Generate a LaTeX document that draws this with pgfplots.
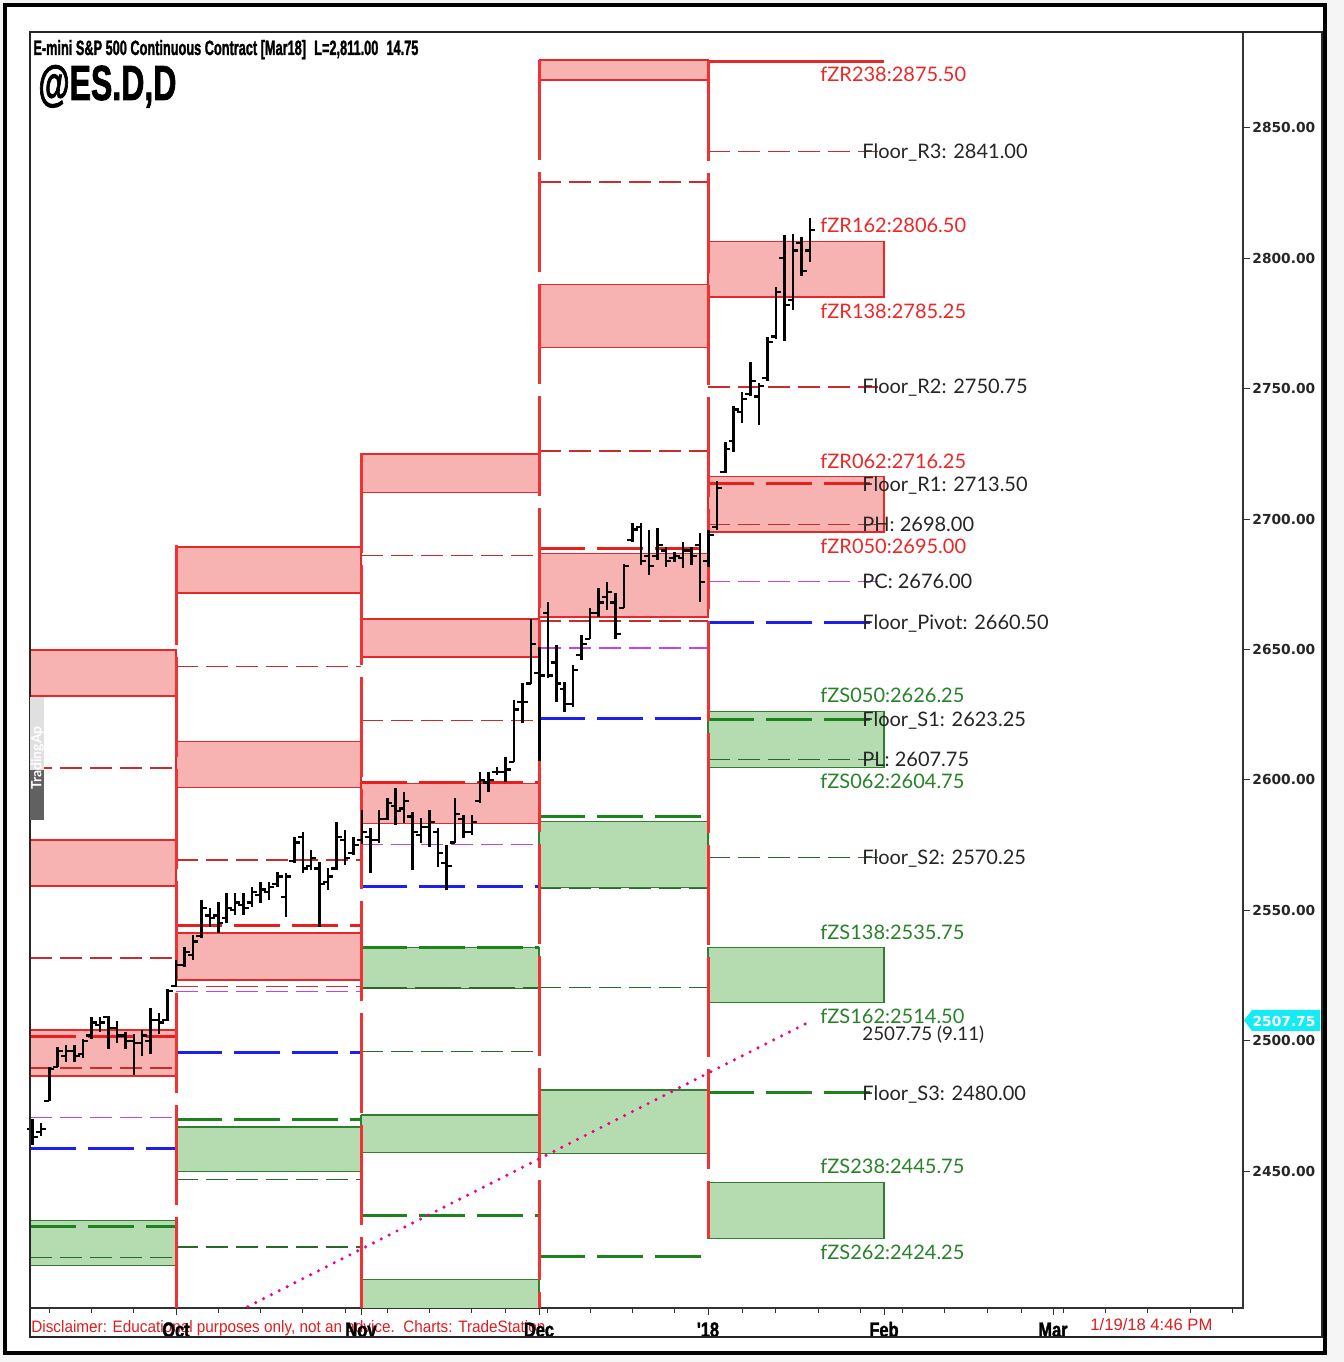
\documentclass[border=0pt]{standalone}
\usepackage{pgfplots}
\pgfplotsset{compat=1.18}
\usepackage{pgfplotstable}
\usepackage{graphicx}
\usepackage{fontspec}
\setmainfont{Lato}
\newfontfamily\axisfont{DejaVu Sans}
\newfontfamily\condfont{Liberation Sans}[FakeStretch=0.8]
\newfontfamily\heavyfont{Liberation Sans Bold}[FakeStretch=0.78, FakeBold=1.6]
\newfontfamily\narrowfont{Liberation Sans}[FakeStretch=0.82]

\definecolor{zrfill}{RGB}{247,178,178}
\definecolor{zrline}{RGB}{232,40,40}
\definecolor{zsfill}{RGB}{180,220,176}
\definecolor{zsline}{RGB}{50,125,50}
\definecolor{vred}{RGB}{240,50,50}
\definecolor{rthickc}{RGB}{235,30,30}
\definecolor{rthinc}{RGB}{200,45,45}
\definecolor{pcc}{RGB}{190,70,230}
\definecolor{pivc}{RGB}{30,30,240}
\definecolor{gthickc}{RGB}{30,130,30}
\definecolor{gthinc}{RGB}{40,105,40}
\definecolor{labred}{RGB}{235,40,40}
\definecolor{labgreen}{RGB}{40,130,40}
\definecolor{dred}{RGB}{220,30,30}
\definecolor{tagcyan}{RGB}{20,235,245}

\pgfdeclareplotmark{ctick}{\pgfpathmoveto{\pgfqpoint{0pt}{0pt}}\pgfpathlineto{\pgfqpoint{2.6pt}{0pt}}\pgfusepathqstroke}
\pgfdeclareplotmark{otick}{\pgfpathmoveto{\pgfqpoint{0pt}{0pt}}\pgfpathlineto{\pgfqpoint{-2.6pt}{0pt}}\pgfusepathqstroke}

\pgfplotsset{
  zr/.style={fill=zrfill, draw=zrline, line width=0.7pt},
  zs/.style={fill=zsfill, draw=zsline, line width=0.55pt},
  zredge/.style={color=zrline, line width=1.1pt},
  rthick/.style={rthickc, line width=1.5pt, dash pattern=on 23pt off 6pt},
  rthin/.style={color=rthinc, line width=0.75pt, dash pattern=on 11pt off 4pt},
  pc/.style={pcc, line width=0.6pt, dash pattern=on 11pt off 4pt},
  piv/.style={pivc, line width=1.5pt, dash pattern=on 23pt off 6pt},
  gthick/.style={gthickc, line width=1.5pt, dash pattern=on 23pt off 6pt},
  gmid/.style={gthinc, line width=1.0pt, dash pattern=on 23pt off 4pt},
  gthin/.style={gthinc, line width=0.6pt, dash pattern=on 11pt off 4pt},
  vline/.style={vred, line width=1.5pt, dash pattern=on 50pt off 6pt},
  trend/.style={magenta, line width=1.7pt, line cap=round, dash pattern=on 0pt off 4.4pt},
}
\tikzset{
  lr/.style={anchor=base west, inner sep=0pt, text=labred, font=\fontsize{10}{12}\selectfont},
  lg/.style={anchor=base west, inner sep=0pt, text=labgreen, font=\fontsize{10}{12}\selectfont},
  lk/.style={anchor=base west, inner sep=0pt, text=black!85, font=\fontsize{10}{12}\selectfont},
}

\newcommand{\zrbox}[4]{\addplot[zr] coordinates {(#1,#3) (#2,#3) (#2,#4) (#1,#4) (#1,#3)};}
\newcommand{\zsbox}[4]{\addplot[zs] coordinates {(#1,#3) (#2,#3) (#2,#4) (#1,#4) (#1,#3)};}
\newcommand{\lv}[4]{\addplot[#1] coordinates {(#2,#4) (#3,#4)};}

\pgfplotstableread{
x O H L C
32.35 2466 2470.1 2460.1 2463
40.8 2465 2468.4 2463.4 2466
49.25 2477 2490.0 2476.7 2489
57.7 2490 2497.6 2490.0 2496
66.15 2494 2498.3 2491.7 2496
74.6 2496 2498.3 2491.7 2494
83.05 2495 2500.8 2493.3 2500
91.5 2502 2509.1 2500.8 2507
99.95 2506 2509.1 2503.3 2507
108.4 2509 2509.6 2496.7 2505
116.85 2505 2507.5 2499.2 2502
125.3 2502 2503.3 2496.7 2500
133.75 2500 2502.5 2487.0 2499
142.2 2499 2504.1 2494.2 2502
150.65 2500 2512.5 2495.0 2508
159.1 2508 2510.8 2502.5 2507
167.55 2508 2520.0 2507.5 2519
176 2521 2530.9 2520.7 2529
184.45 2529 2536.0 2528.3 2534
192.9 2533 2540.5 2530.9 2538
201.35 2540 2553.9 2539.2 2551
209.8 2548 2550.7 2543.7 2547
218.25 2548 2553.3 2541.2 2545
226.7 2547 2556.5 2545.0 2551
235.15 2550 2556.5 2548.2 2553
243.6 2552 2556.5 2548.2 2551
252.05 2553 2559.0 2551.4 2557
260.5 2556 2561.0 2552.7 2558
268.95 2557 2561.0 2553.9 2559
277.4 2560 2564.8 2559.0 2563
285.85 2555 2564.2 2547.5 2563
294.3 2569 2578.2 2568.0 2576
302.75 2578 2580.1 2564.2 2566
311.2 2567 2573.1 2565.4 2570
319.65 2566 2568.6 2543.7 2560
328.1 2561 2566.1 2557.8 2563
336.55 2566 2584.0 2565.4 2578
345 2577 2580.8 2567.4 2570
353.45 2572 2578.2 2571.2 2575
361.9 2577 2588.4 2575.6 2580
370.35 2578 2581.4 2564.2 2577
378.8 2577 2588.4 2575.7 2585
387.25 2585 2592.9 2584.6 2591
395.7 2590 2596.8 2582.7 2588
404.15 2589 2595.5 2583.3 2592
412.6 2586 2587.8 2565.4 2580
421.05 2579 2585.3 2575.7 2582
429.5 2582 2588.4 2574.4 2584
437.95 2580 2581.4 2566.7 2572
446.4 2568 2575.0 2557.8 2567
454.85 2576 2592.9 2575.7 2587
463.3 2585 2586.5 2577.6 2580
471.75 2580 2586.5 2578.9 2584
480.2 2592 2603.1 2591.0 2600
488.65 2599 2603.1 2595.5 2600
497.1 2603 2605.0 2601.9 2603
505.55 2603 2608.9 2599.3 2604
514 2607 2630.6 2606.9 2627
522.45 2630 2637.2 2621.7 2630
530.9 2637 2661.7 2636.6 2652
539.35 2641 2651.1 2607.2 2640
547.8 2664 2668.2 2639.1 2640
556.25 2645 2651.7 2630.0 2637
564.7 2635 2637.7 2626.1 2629
573.15 2629 2644.1 2628.1 2642
581.6 2648 2655.6 2646.0 2652
590.05 2654 2665.8 2653.9 2664
598.5 2664 2673.5 2662.6 2668
606.95 2670 2676.0 2665.1 2672
615.4 2668 2671.5 2653.9 2656
623.85 2666 2682.8 2665.8 2682
632.3 2692 2698.6 2691.3 2696
640.75 2697 2698.4 2682.4 2684
649.2 2686 2695.8 2678.6 2682
657.65 2686 2696.5 2684.3 2690
666.1 2688 2689.4 2681.8 2684
674.55 2685 2687.5 2683.7 2686
683 2685 2691.3 2681.1 2688
691.45 2688 2689.4 2682.4 2686
699.9 2690 2694.6 2668.3 2676
708.35 2684 2695.7 2681.7 2694
716.8 2697 2714.8 2695.7 2712
725.25 2718 2729.5 2717.7 2727
733.7 2730 2743.4 2725.8 2742
742.15 2741 2748.6 2736.8 2746
750.6 2748 2760.3 2747.1 2753
759.05 2747 2752.2 2736.1 2751
767.5 2754 2769.8 2753.0 2768
775.95 2770 2789.0 2769.1 2787
784.4 2800 2808.8 2768.4 2782
792.85 2784 2809.5 2780.2 2803
801.3 2806 2808.1 2793.4 2795
809.75 2803 2815.4 2798.5 2811
}\ohlc

\begin{document}
\begin{tikzpicture}
\begin{scope}[x=0.5pt,y=-0.5pt,shift={(0pt,681pt)}]
  \path[use as bounding box] (0,0) rectangle (1344,1362);
  \fill[black!4] (0,0) rectangle (1344,1362);
  \fill[white] (5,5) rectangle (1325,1353);
  \node[anchor=base west, inner sep=0pt, text=dred] at (31,1333)
    {\resizebox{257pt}{6pt}{\narrowfont Disclaimer: Educational purposes only, not an advice.\ \ Charts: TradeStation}};
  \node[anchor=base west, inner sep=0pt, text=dred] at (1090,1331)
    {\resizebox{61pt}{6pt}{\narrowfont 1/19/18 4:46 PM}};
\end{scope}

\begin{axis}[
  at={(15pt,27pt)}, anchor=south west,
  scale only axis, width=606.5pt, height=638pt,
  xmin=30, xmax=1243, ymin=2397.5, ymax=2886.8,
  axis line style={line width=0.6pt, black!80},
  ytick={2450,2500,2550,2600,2650,2700,2750,2800,2850},
  yticklabels={2450.00,2500.00,2550.00,2600.00,2650.00,2700.00,2750.00,2800.00,2850.00},
  ytick pos=right, yticklabel pos=right,
  xtick={176,361,539,708,884,1053},
  xticklabels={Oct,Nov,Dec,'18,Feb,Mar},
  xtick pos=bottom,
  minor xtick={49.25,91.5,133.75,218.25,260.5,302.75,345,387.25,429.5,471.75,505.55,547.8,590.05,632.3,674.55,742.15,775.95,818.2,860.45,902.7,944.95,987.2,1021,1063.25,1105.5,1147.75,1190,1232.25},
  tick align=outside,
  major tick length=3.5pt, minor tick length=2.5pt,
  tick style={black!80, line width=0.5pt},
  yticklabel style={font=\axisfont\bfseries\fontsize{6.9}{8}\selectfont, anchor=west, inner sep=0pt, xshift=1pt, text=black!85},
  xticklabel style={font=\heavyfont\fontsize{10.5}{12}\selectfont, anchor=base, inner sep=0pt, yshift=-11pt},
]
% ---- September segment
\zrbox{30}{176}{2649.8}{2632.2}
\lv{rthin}{30}{176}{2604.6}
\zrbox{30}{176}{2576.9}{2559.3}
\lv{rthin}{30}{176}{2531.7}
\zrbox{30}{176}{2504.1}{2486.4}
\lv{rthick}{30}{176}{2501.8}
\lv{rthin}{30}{176}{2489.5}
\lv{pc}{30}{176}{2470.7}
\lv{piv}{30}{176}{2458.8}
\zsbox{30}{176}{2431.2}{2413.9}
\lv{gthick}{30}{176}{2428.8}
\lv{gthin}{30}{176}{2416.8}
% ---- October segment
\zrbox{176}{361}{2689.3}{2671.6}
\lv{rthin}{176}{361}{2643.4}
\zrbox{176}{361}{2614.8}{2597.2}
\lv{rthin}{176}{361}{2569.3}
\lv{rthick}{176}{361}{2544.2}
\zrbox{176}{361}{2541.3}{2523.2}
\lv{rthin}{176}{361}{2520.7}
\lv{pc}{176}{361}{2519.0}
\lv{piv}{176}{361}{2495.3}
\lv{gthick}{176}{361}{2469.6}
\zsbox{176}{361}{2466.9}{2449.7}
\lv{gthin}{176}{361}{2446.7}
\lv{gthin}{176}{361}{2420.9}
% ---- November segment
\zrbox{361}{539}{2725.0}{2710.1}
\lv{rthin}{361}{539}{2686.0}
\zrbox{361}{539}{2661.7}{2647.2}
\lv{rthin}{361}{539}{2622.7}
\zrbox{361}{539}{2598.7}{2583.4}
\lv{rthick}{361}{539}{2598.9}
\lv{pc}{361}{539}{2575.3}
\lv{piv}{361}{539}{2559.3}
\zsbox{361}{539}{2535.8}{2520.1}
\lv{gthick}{361}{539}{2535.9}
\lv{gmid}{361}{539}{2520.2}
\lv{gthin}{361}{539}{2496.0}
\zsbox{361}{539}{2471.5}{2457.0}
\lv{gthick}{361}{539}{2432.9}
\zsbox{361}{539}{2408.6}{2380}
% ---- December segment
\zrbox{539}{708}{2876.1}{2868.4}
\lv{rthin}{539}{708}{2829.3}
\zrbox{539}{708}{2789.9}{2765.7}
\lv{rthin}{539}{708}{2726.2}
\lv{rthick}{539}{708}{2688.8}
\zrbox{539}{708}{2686.9}{2662.5}
\lv{rthin}{539}{708}{2661.0}
\lv{pc}{539}{708}{2650.6}
\lv{piv}{539}{708}{2623.7}
\lv{gthick}{539}{708}{2585.8}
\zsbox{539}{708}{2584.2}{2558.9}
\lv{gthin}{539}{708}{2558.3}
\lv{gthin}{539}{708}{2520.5}
\zsbox{539}{708}{2481.1}{2456.6}
\lv{gthick}{539}{708}{2417.1}
% ---- January segment
\lv{zredge}{708}{884}{2875.5}
\lv{rthin}{708}{878}{2841.0}
\zrbox{708}{884}{2806.5}{2785.25}
\lv{rthin}{708}{878}{2750.75}
\zrbox{708}{884}{2716.25}{2695.0}
\lv{rthick}{708}{878}{2713.5}
\lv{rthin}{708}{878}{2698.0}
\lv{pc}{708}{878}{2676.0}
\lv{piv}{708}{878}{2660.5}
\zsbox{708}{884}{2626.25}{2604.75}
\lv{gthick}{708}{878}{2623.25}
\lv{gthin}{708}{878}{2607.75}
\lv{gthin}{708}{878}{2570.25}
\zsbox{708}{884}{2535.75}{2514.5}
\lv{gthick}{708}{878}{2480.0}
\zsbox{708}{884}{2445.75}{2424.25}
% ---- month boundaries
\addplot[vline] coordinates {(176,2690.1) (176,2380)};
\addplot[vline] coordinates {(361,2725.4) (361,2380)};
\addplot[vline] coordinates {(539,2876.1) (539,2380)};
\addplot[vline] coordinates {(708,2875.5) (708,2424.25)};
% ---- trend line
\addplot[trend] coordinates {(240,2396.5) (812,2507.75)};
% ---- OHLC bars
\addplot[only marks, mark=ctick, mark options={black, line width=1.1pt},
  error bars/.cd, y dir=both, y explicit, error mark=none,
  error bar style={black, line width=1.25pt}]
  table[x=x, y=C, y error plus expr=\thisrow{H}-\thisrow{C}, y error minus expr=\thisrow{C}-\thisrow{L}] {\ohlc};
\addplot[only marks, mark=otick, mark options={black, line width=1.1pt}]
  table[x=x, y=O] {\ohlc};
% ---- labels
\node[lr] at (axis cs:820,2875.5) [yshift=-10.1pt] {fZR238:2875.50};
\node[lk] at (axis cs:862,2841.0) [yshift=-3.6pt] {Floor\_R3: 2841.00};
\node[lr] at (axis cs:820,2806.5) [yshift=4.4pt] {fZR162:2806.50};
\node[lr] at (axis cs:820,2785.25) [yshift=-10.6pt] {fZR138:2785.25};
\node[lk] at (axis cs:862,2750.75) [yshift=-3.6pt] {Floor\_R2: 2750.75};
\node[lr] at (axis cs:820,2716.25) [yshift=3.9pt] {fZR062:2716.25};
\node[lk] at (axis cs:862,2713.5) [yshift=-3.6pt] {Floor\_R1: 2713.50};
\node[lk] at (axis cs:862,2698.0) [yshift=-3.6pt] {PH: 2698.00};
\node[lr] at (axis cs:820,2695.0) [yshift=-10.6pt] {fZR050:2695.00};
\node[lk] at (axis cs:862,2676.0) [yshift=-3.6pt] {PC: 2676.00};
\node[lk] at (axis cs:862,2660.5) [yshift=-3.6pt] {Floor\_Pivot: 2660.50};
\node[lg] at (axis cs:820,2626.25) [yshift=4.4pt] {fZS050:2626.25};
\node[lk] at (axis cs:862,2623.25) [yshift=-3.6pt] {Floor\_S1: 2623.25};
\node[lk] at (axis cs:862,2607.75) [yshift=-3.6pt] {PL: 2607.75};
\node[lg] at (axis cs:820,2604.75) [yshift=-10.6pt] {fZS062:2604.75};
\node[lk] at (axis cs:862,2570.25) [yshift=-3.6pt] {Floor\_S2: 2570.25};
\node[lg] at (axis cs:820,2535.75) [yshift=3.9pt] {fZS138:2535.75};
\node[lg] at (axis cs:820,2514.5) [yshift=-10.1pt] {fZS162:2514.50};
\node[lk, font=\fontsize{9.4}{11}\selectfont] at (axis cs:862,2507.75) [yshift=-9.9pt] {2507.75 (9.11)};
\node[lk] at (axis cs:862,2480.0) [yshift=-3.6pt] {Floor\_S3: 2480.00};
\node[lg] at (axis cs:820,2445.75) [yshift=4.4pt] {fZS238:2445.75};
\node[lg] at (axis cs:820,2424.25) [yshift=-10.6pt] {fZS262:2424.25};
\end{axis}

\begin{scope}[x=0.5pt,y=-0.5pt,shift={(0pt,681pt)}]
  % outer frames
  \draw[line width=0.6pt, black!85] (30,32) rectangle (1322,1337);
  \draw[line width=1.8pt, black] (5,5) rectangle (1325,1353);
  % watermark
  \fill[black!12] (30,697) rectangle (44,770);
  \fill[black!62] (30,770) rectangle (44,820);
  \node[rotate=90, inner sep=0pt, text=white, font=\bfseries\fontsize{7}{8}\selectfont] at (37.5,758) {TradingAp};
  % title
  \node[anchor=base west, inner sep=0pt] at (33,55)
    {\resizebox{192.5pt}{7.5pt}{\heavyfont E-mini S\&P 500 Continuous Contract [Mar18]\enspace L=2,811.00\enspace 14.75}};
  \node[anchor=base west, inner sep=0pt] at (38,100)
    {\resizebox{69pt}{17.5pt}{\heavyfont @ES.D,D}};
  % last price tag
  \fill[tagcyan] (1244,1020.4) -- (1252,1010) -- (1320,1010) -- (1320,1031) -- (1252,1031) -- cycle;
  \node[inner sep=0pt, text=white, font=\axisfont\bfseries\fontsize{6.9}{8}\selectfont] at (1284,1021) {2507.75};
\end{scope}
\end{tikzpicture}
\end{document}
